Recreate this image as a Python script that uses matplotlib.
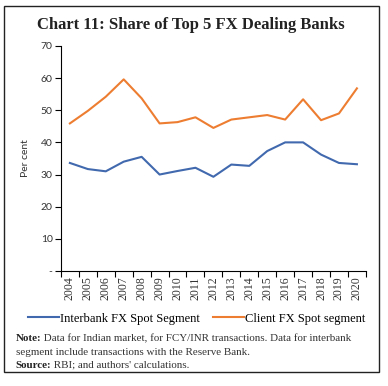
import matplotlib
matplotlib.use("Agg")
import matplotlib.pyplot as plt
from matplotlib.patches import Rectangle

years = [str(y) for y in range(2004, 2021)]
interbank = [33.6, 31.7, 31.0, 34.0, 35.5, 30.0, 31.1, 32.1, 29.3, 33.1, 32.7,
             37.3, 40.0, 40.0, 36.2, 33.6, 33.2]
client = [45.9, 49.8, 54.2, 59.6, 53.7, 45.9, 46.3, 47.8, 44.5, 47.1, 47.8,
          48.5, 47.1, 53.4, 46.9, 49.0, 56.8]
yticks = [0, 10, 20, 30, 40, 50, 60, 70]
ytick_labels = ['-', '10', '20', '30', '40', '50', '60', '70']

serif = 'Liberation Serif'
sans = 'Lato'

fig = plt.figure(figsize=(3.88, 3.86), dpi=100)
ax = fig.add_axes([0.157, 0.298, 0.786, 0.583])

x = list(range(len(years)))
ax.plot(x, interbank, color='#4169AE', lw=1.5, label='Interbank FX Spot Segment')
ax.plot(x, client, color='#ED7D31', lw=1.5, label='Client FX Spot segment')

ax.set_xlim(-0.5, len(years) - 0.5)
ax.set_ylim(0, 70)
ax.set_yticks(yticks)
ax.set_yticklabels(ytick_labels, fontfamily=sans, fontsize=7.5, color='#333333')
ax.set_xticks(x)
ax.set_xticklabels(years, rotation=90, fontfamily=serif, fontsize=8.5, color='#333333')
ax.set_xticks([i - 0.5 for i in range(len(years) + 1)], minor=True)
ax.tick_params(axis='x', which='major', length=0, pad=4)
ax.tick_params(axis='x', which='minor', length=4, width=0.8, direction='out')
ax.tick_params(axis='y', length=4, width=0.8, direction='out', pad=2)
for s in ['top', 'right']:
    ax.spines[s].set_visible(False)
for s in ['left', 'bottom']:
    ax.spines[s].set_linewidth(0.8)
ax.set_ylabel('Per cent', fontfamily=sans, fontsize=7.5, color='#333333', labelpad=8)

ax.legend(loc='upper center', bbox_to_anchor=(0.445, -0.135), ncol=2, frameon=False,
          prop={'family': serif, 'size': 9}, handlelength=2.5, handletextpad=0.1,
          columnspacing=1.0)

fig.text(0.493, 0.935, 'Chart 11: Share of Top 5 FX Dealing Banks', ha='center', va='center',
         fontfamily=serif, fontweight='bold', fontsize=12, color='#222222')

fig.patches.append(Rectangle((0.011, 0.035), 0.966, 0.95, transform=fig.transFigure,
                             fill=False, edgecolor='#222222', lw=1.0))

fs = 7.9
t1 = fig.text(0.04, 0.117, 'Note:', fontfamily=serif, fontweight='bold', fontsize=fs,
              va='baseline', color='#222222')
ax.annotate(' Data for Indian market, for FCY/INR transactions. Data for interbank',
            xy=(1, 0), xycoords=t1, va='bottom', fontfamily=serif, fontsize=fs, color='#333333')
fig.text(0.04, 0.081, 'segment include transactions with the Reserve Bank.', fontfamily=serif,
         fontsize=fs, va='baseline', color='#333333')
t2 = fig.text(0.04, 0.047, 'Source:', fontfamily=serif, fontweight='bold', fontsize=fs,
              va='baseline', color='#222222')
ax.annotate(' RBI; and authors\' calculations.', xy=(1, 0), xycoords=t2, va='bottom',
            fontfamily=serif, fontsize=fs, color='#333333')

fig.savefig('out.png', dpi=100)
